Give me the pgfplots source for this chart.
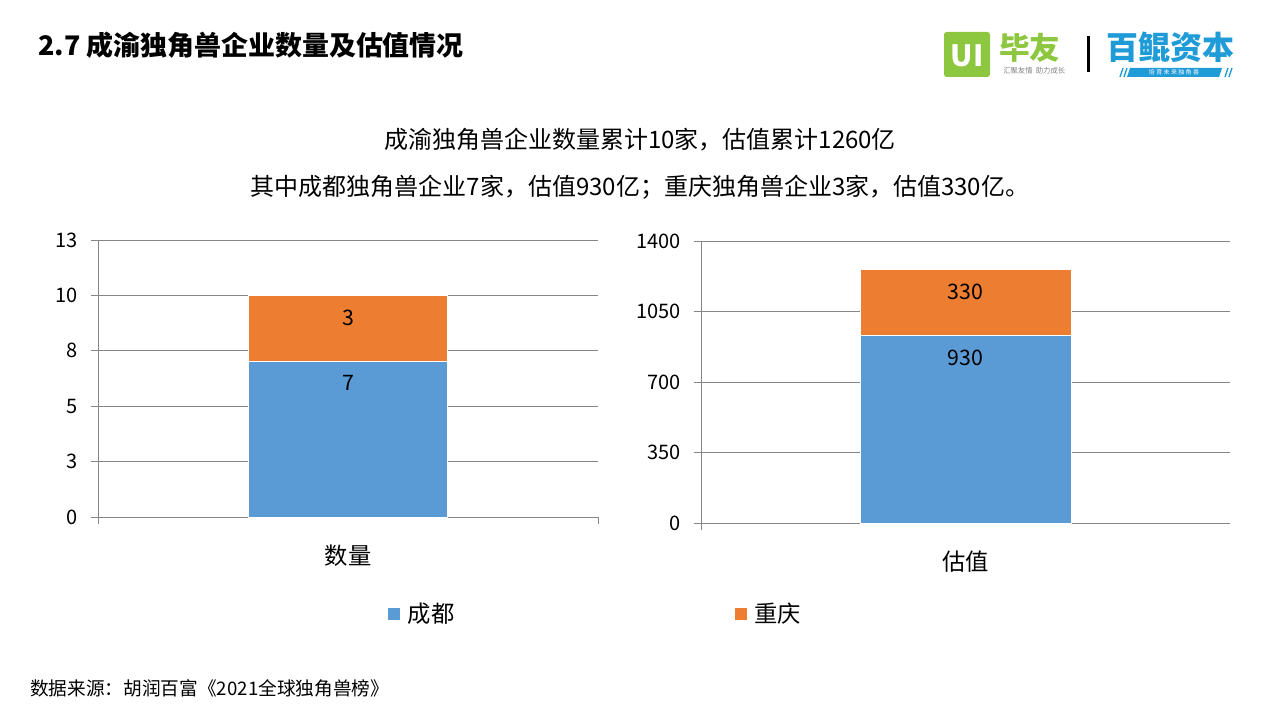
\documentclass[border=0pt]{standalone}
\usepackage{fontspec}
\setmainfont{Noto Sans CJK SC}
\usepackage{pgfplots}
\pgfplotsset{compat=1.18}
\definecolor{cblue}{HTML}{5B9BD5}
\definecolor{corange}{HTML}{ED7D31}
\definecolor{axgray}{HTML}{868686}
\definecolor{ugreen}{HTML}{8DC63F}
\definecolor{lblue}{HTML}{1F9BD7}
\pgfplotsset{
  unichart/.style={
    scale only axis, anchor=south west,
    ybar stacked, xmin=-1.25, xmax=1.25, ymin=0,
    axis x line*=bottom, axis y line*=left,
    axis line style={axgray, line width=0.75pt},
    ymajorgrids, grid style={axgray, line width=0.75pt},
    tick align=outside, major tick length=5.5pt,
    tick style={axgray, line width=0.75pt},
    xticklabels={}, 
    /pgf/number format/assume math mode=true,
    /pgf/number format/1000 sep={},
    tick label style={font=\fontsize{15pt}{17pt}\selectfont},
    yticklabel style={xshift=-6pt},
    xlabel style={at={(axis description cs:0.5,0)}, anchor=center, yshift=-29.25pt,
      font=\fontsize{17.5pt}{20pt}\selectfont},
    point meta=explicit symbolic,
    nodes near coords,
    every node near coord/.append style={anchor=center, black,
      font=\fontsize{16pt}{18pt}\selectfont},
    legend image code/.code={\fill[##1, draw=none] (0pt,-4.5pt) rectangle (9pt,4.5pt);
      \path[draw=none, fill=none] (0pt,0pt) -- (12.75pt,0pt);},
  },
}
\begin{document}
\begin{tikzpicture}
\path[use as bounding box] (0pt,0pt) rectangle (960pt,-540pt);

\begin{axis}[unichart,
  at={(73.5pt,-387.75pt)}, width=375pt, height=207.75pt,
  bar width=149.25pt, ymax=12.5,
  ytick={0,2.5,5,7.5,10,12.5}, yticklabels={0,3,5,8,10,13},
  xtick={-1.25,1.25},
  xlabel={数量},
  legend columns=2,
  legend style={at={(0.58,-0.35)}, anchor=west, draw=none, fill=none,
    inner sep=0pt, font=\fontsize{17.5pt}{20pt}\selectfont,
    /tikz/every even column/.append style={column sep=208pt}},
]
\addplot[fill=cblue, draw=white, line width=0.75pt,
  every node near coord/.append style={yshift=42.4pt}] coordinates {(0,7) [7]};
\addplot[fill=corange, draw=white, line width=0.75pt,
  every node near coord/.append style={yshift=8.4pt}] coordinates {(0,3) [3]};
\legend{成都,重庆}
\end{axis}

\begin{axis}[unichart,
  at={(525.75pt,-392.25pt)}, width=396.75pt, height=211.5pt,
  bar width=158.25pt, ymax=1400,
  ytick={0,350,700,1050,1400},
  xtick={-1.25},
  xlabel={估值},
]
\addplot[fill=cblue, draw=white, line width=0.75pt,
  every node near coord/.append style={yshift=53.8pt}] coordinates {(0,930) [930]};
\addplot[fill=corange, draw=white, line width=0.75pt,
  every node near coord/.append style={yshift=7.7pt}] coordinates {(0,330) [330]};
\end{axis}

\begin{scope}[x=0.75pt,y=-0.75pt]
\node[anchor=west, inner sep=0pt, font=\bfseries\fontsize{20.2pt}{24pt}\selectfont] at (38,45) {2.7 成渝独角兽企业数量及估值情况};
\node[font=\fontsize{18pt}{22pt}\selectfont] at (640,140) {成渝独角兽企业数量累计10家，估值累计1260亿};
\node[font=\fontsize{18pt}{22pt}\selectfont] at (640,187) {其中成都独角兽企业7家，估值930亿；重庆独角兽企业3家，估值330亿。};
\node[anchor=west, inner sep=0pt, font=\fontsize{14pt}{16pt}\selectfont] at (30,688) {数据来源：胡润百富《2021全球独角兽榜》};
% logo
\fill[ugreen, rounded corners=2pt] (944,32) rectangle (990,77);
\node[white, font=\bfseries\fontsize{22pt}{24pt}\selectfont] at (967,56) {UI};
\node[ugreen, anchor=west, inner sep=0pt, font=\bfseries\fontsize{23pt}{26pt}\selectfont] at (999,48) {毕友};
\node[gray, anchor=west, inner sep=0pt, font=\fontsize{5.5pt}{6pt}\selectfont] at (1003,71) {汇聚友情\ \ 助力成长};
\fill[black] (1087,36) rectangle (1090,72);
\node[lblue, anchor=west, inner sep=0pt, font=\bfseries\fontsize{24pt}{26pt}\selectfont] at (1106,47) {百鲲资本};
\fill[lblue] (1130,68) -- (1222,68) -- (1219,77) -- (1127,77) -- cycle;
\draw[lblue, line width=1pt] (1120,77) -- (1123,68) (1124,77) -- (1127,68) (1225,77) -- (1228,68) (1229,77) -- (1232,68);
\node[white, inner sep=0pt, font=\fontsize{4.5pt}{5pt}\selectfont] at (1174,72.5) {培\ 育\ 未\ 来\ 独\ 角\ 兽};
\end{scope}
\end{tikzpicture}
\end{document}
